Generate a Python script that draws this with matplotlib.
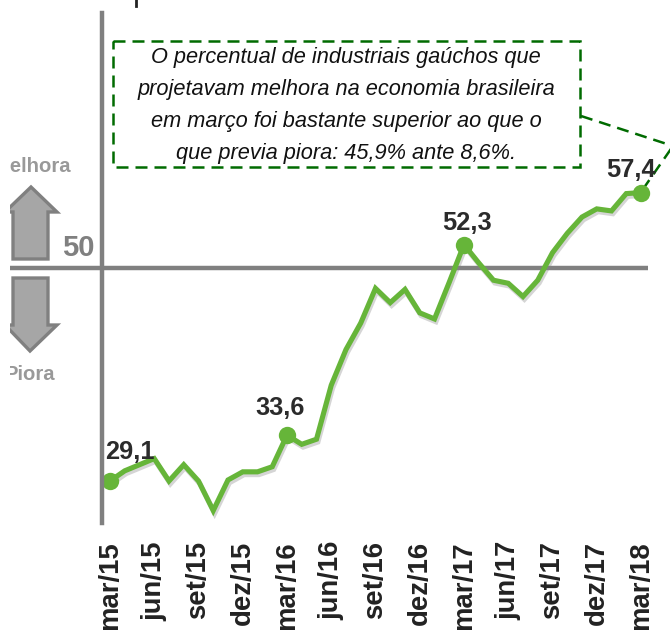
import matplotlib
matplotlib.use("Agg")
import matplotlib.pyplot as plt
import matplotlib.patheffects as pe
from matplotlib.patches import Polygon, Rectangle

plt.rcParams['font.family'] = ['Liberation Sans', 'DejaVu Sans']

# indice mensal, mar/15 a mar/18
valores = [29.1, 30.1, 30.7, 31.3, 29.1, 30.7, 29.1, 26.2, 29.2, 30.0, 30.0, 30.5,
           33.6, 32.7, 33.2, 38.5, 42.0, 44.6, 48.0, 46.6, 47.9, 45.6, 45.0, 48.6,
           52.3, 50.5, 48.8, 48.5, 47.2, 48.8, 51.5, 53.4, 55.0, 55.8, 55.6, 57.3, 57.4]
rotulos_x = ['mar/15', 'jun/15', 'set/15', 'dez/15', 'mar/16', 'jun/16', 'set/16',
             'dez/16', 'mar/17', 'jun/17', 'set/17', 'dez/17', 'mar/18']
destaques = [0, 12, 24, 36]
rotulos_destaque = ['29,1', '33,6', '52,3', '57,4']
texto_box = ['O percentual de industriais gaúchos que',
             'projetavam melhora na economia brasileira',
             'em março foi bastante superior ao que o',
             'que previa piora: 45,9% ante 8,6%.']

W, H = 670, 630
CINZA = '#808080'
VERDE = '#66b539'
VERDE_ESCURO = '#006b00'

fig = plt.figure(figsize=(W / 100, H / 100), dpi=100, facecolor='white')

# camada de fundo em pixels: setas, caixa, linha do 50
fundo = fig.add_axes([0, 0, 1, 1])
fundo.set_xlim(0, W)
fundo.set_ylim(H, 0)
fundo.axis('off')

corte = Rectangle((10, 0), W, H, transform=fundo.transData)

seta_cima = Polygon([(31, 187), (57, 212), (48, 212), (48, 259), (13, 259), (13, 212), (5, 212)],
                    closed=True, fc='#a6a6a6', ec=CINZA, lw=2.4)
seta_baixo = Polygon([(13, 278), (48, 278), (48, 325), (57, 325), (30, 351), (5, 325), (13, 325)],
                     closed=True, fc='#a6a6a6', ec=CINZA, lw=2.4)
for seta in (seta_cima, seta_baixo):
    fundo.add_patch(seta)
    seta.set_clip_path(corte)

for txt, x, y in (('Melhora', 71, 167), ('Piora', 55, 375)):
    t = fundo.text(x, y, txt, ha='right', va='center', fontsize=14.6, fontweight='bold', color='#999999')
    t.set_clip_path(corte)
    t.set_clip_on(True)

fundo.text(95, 248, '50', ha='right', va='center', fontsize=21, fontweight='bold', color=CINZA)
fundo.plot([10, 648], [268, 268], color=CINZA, lw=3.2, solid_capstyle='butt')
fundo.plot([135.5, 135.5], [0, 6], color='#222222', lw=2)

traco = (0, (4.8, 2.8))
fundo.add_patch(Rectangle((113, 41), 467, 126, fill=False, ec=VERDE_ESCURO, lw=1.8, ls=traco))
fundo.plot([581, 673, 641], [116, 146, 192], color=VERDE_ESCURO, lw=1.8, ls=traco)

for linha, y in zip(texto_box, (57, 89, 122, 154)):
    fundo.text(346, y, linha, ha='center', va='center', fontsize=15.7, style='italic', color='#111111')

# grafico
ax = fig.add_axes([102 / W, 1 - 523 / H, (648 - 102) / W, (523 - 13) / H])
ax.patch.set_alpha(0)
ax.set_xlim(-0.542, 36.475)
ax.set_ylim(24.98, 75.02)

meses = list(range(len(valores)))
sombra = [pe.SimpleLineShadow(offset=(1, -2), shadow_color='#888888', alpha=0.35), pe.Normal()]
ax.plot(meses, valores, color=VERDE, lw=3.7, solid_joinstyle='miter', clip_on=False, path_effects=sombra)
ax.plot(destaques, [valores[i] for i in destaques], 'o', color=VERDE, ms=12.5, mew=0, clip_on=False)

desloc = [(20, 29), (-7, 27), (3, 22), (-10, 23)]
for i, txt, d in zip(destaques, rotulos_destaque, desloc):
    ax.annotate(txt, (i, valores[i]), xytext=d, textcoords='offset pixels', ha='center', va='center',
                fontsize=18.3, fontweight='bold', color='#2b2b2b')

for lado in ('top', 'right', 'bottom'):
    ax.spines[lado].set_visible(False)
ax.spines['left'].set_color(CINZA)
ax.spines['left'].set_linewidth(3.2)
ax.set_yticks([])
ax.set_xticks(meses[::3])
ax.set_xticklabels(rotulos_x, rotation=90, fontsize=19.8, fontweight='bold', color='#222222')
ax.tick_params(axis='x', length=0, pad=13)

fig.savefig('out.png', dpi=100)
